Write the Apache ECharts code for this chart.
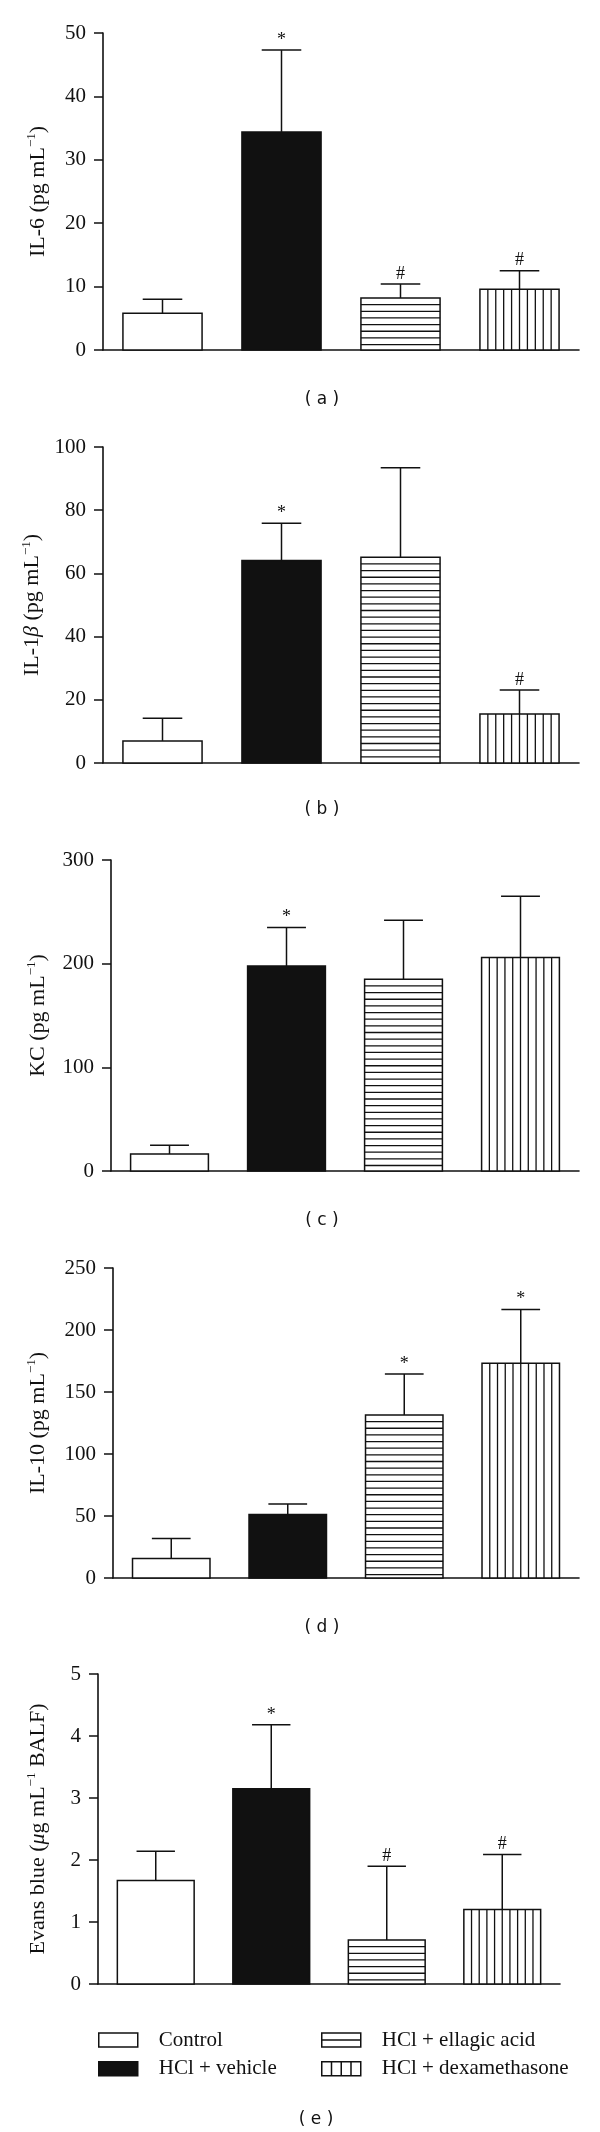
<!DOCTYPE html>
<html><head><meta charset="utf-8">
<script src="https://cdn.jsdelivr.net/npm/echarts@6/dist/echarts.min.js"></script>
<style>html,body{margin:0;padding:0;background:#fff}#chart{width:600px;height:2132px}</style>
</head><body><div id="chart"></div>
<script>
// ---------------- data ----------------
const categories = ['Control', 'HCl + vehicle', 'HCl + ellagic acid', 'HCl + dexamethasone'];

const il6Mean  = [5.8, 34.4, 8.2, 9.6];
const il6Sem   = [2.2, 12.9, 2.2, 2.9];
const il6Marks = ['', '*', '#', '#'];

const il1bMean  = [7.0, 64.1, 65.1, 15.5];
const il1bSem   = [7.2, 11.8, 28.3, 7.6];
const il1bMarks = ['', '*', '', '#'];

const kcMean  = [16.4, 197.7, 184.9, 206.0];
const kcSem   = [8.4, 37.3, 57.1, 59.0];
const kcMarks = ['', '*', '', ''];

const il10Mean  = [15.8, 51.3, 131.5, 173.1];
const il10Sem   = [16.1, 8.4, 33.0, 43.5];
const il10Marks = ['', '', '*', '*'];

const evansMean  = [1.67, 3.15, 0.71, 1.20];
const evansSem   = [0.47, 1.03, 1.19, 0.89];
const evansMarks = ['', '*', '#', '#'];

const yMax      = [50, 100, 300, 250, 5];
const yInterval = [10, 20, 100, 50, 1];
const yTitles = [
  '{t|IL-6 (pg mL}{s|\u22121}{t|)}',
  '{t|IL-1}{i|\u03B2}{t| (pg mL}{s|\u22121}{t|)}',
  '{t|KC (pg mL}{s|\u22121}{t|)}',
  '{t|IL-10 (pg mL}{s|\u22121}{t|)}',
  '{t|Evans blue (}{i|\u03BC}{t|g mL}{s|\u22121}{t| BALF)}'
];
const panelLabels = ['( a )', '( b )', '( c )', '( d )', '( e )'];

const means = [il6Mean, il1bMean, kcMean, il10Mean, evansMean];
const sems  = [il6Sem, il1bSem, kcSem, il10Sem, evansSem];
const marks = [il6Marks, il1bMarks, kcMarks, il10Marks, evansMarks];

// ---------------- layout / style ----------------
const INK = '#111';
const SERIF = "'Liberation Serif', 'DejaVu Serif', serif";
const SANS = "'DejaVu Sans', sans-serif";
const BAR_RATIO = 0.665;
const HATCH_GAP = 6.65;
const grids = [
  {left: 103, top: 33,   width: 476, height: 317},
  {left: 103, top: 447,  width: 476, height: 316},
  {left: 111, top: 860,  width: 468, height: 311},
  {left: 113, top: 1268, width: 466, height: 310},
  {left: 98,  top: 1674, width: 462, height: 310}
];
const nameGaps = [52, 52, 60, 62, 47];
const labelPos = [[322, 400], [322, 810], [322, 1221], [322, 1628], [316, 2120]];

function makeRender(g, mark) {
  return function (params, api) {
    const cat = api.value(0), mean = api.value(1), sem = api.value(2);
    const base = api.coord([cat, 0]);
    const top = api.coord([cat, mean]);
    const err = api.coord([cat, mean + sem]);
    const band = api.size([1, 0])[0];
    const w = band * BAR_RATIO;
    const x0 = base[0] - w / 2;
    const h = base[1] - top[1];
    const ch = [];
    ch.push({type: 'rect', shape: {x: x0, y: top[1], width: w, height: h},
      style: {fill: g === 1 ? INK : '#fff', stroke: INK, lineWidth: 1.5}});
    if (g === 2) {
      for (let y = top[1] + HATCH_GAP; y < base[1] - 1.5; y += HATCH_GAP) {
        ch.push({type: 'line', shape: {x1: x0, y1: y, x2: x0 + w, y2: y}, style: {stroke: INK, lineWidth: 1.3}});
      }
    }
    if (g === 3) {
      for (let k = 1; k < 10; k++) {
        const x = x0 + w * k / 10;
        ch.push({type: 'line', shape: {x1: x, y1: top[1], x2: x, y2: base[1]}, style: {stroke: INK, lineWidth: 1.3}});
      }
    }
    ch.push({type: 'line', shape: {x1: base[0], y1: top[1], x2: base[0], y2: err[1]}, style: {stroke: INK, lineWidth: 1.5}});
    ch.push({type: 'line', shape: {x1: base[0] - w / 4, y1: err[1], x2: base[0] + w / 4, y2: err[1]}, style: {stroke: INK, lineWidth: 1.5}});
    if (mark) {
      ch.push({type: 'text', x: base[0], y: err[1] - 1,
        style: {text: mark, align: 'center', verticalAlign: 'bottom', font: '18px ' + SERIF, fill: INK}});
    }
    return {type: 'group', children: ch};
  };
}

const xAxes = [], yAxes = [], series = [], graphics = [];
grids.forEach((gr, p) => {
  xAxes.push({type: 'category', gridIndex: p, data: categories, boundaryGap: true,
    axisLine: {lineStyle: {color: INK, width: 1.6}}, axisTick: {show: false}, axisLabel: {show: false}});
  yAxes.push({type: 'value', gridIndex: p, min: 0, max: yMax[p], interval: yInterval[p],
    axisLine: {show: true, lineStyle: {color: INK, width: 1.6}},
    axisTick: {show: true, length: 9, lineStyle: {color: INK, width: 1.5}},
    axisLabel: {fontFamily: SERIF, fontSize: 21, color: INK, margin: 17},
    splitLine: {show: false},
    name: yTitles[p], nameLocation: 'middle', nameGap: nameGaps[p], nameRotate: 90,
    nameTextStyle: {
      rich: {
        t: {fontFamily: SERIF, fontSize: 22, color: INK, lineHeight: 26},
        i: {fontFamily: SERIF, fontSize: 22, fontStyle: 'italic', color: INK, lineHeight: 26},
        s: {fontFamily: SERIF, fontSize: 13, color: INK, lineHeight: 20, verticalAlign: 'top'}
      }
    }});
  categories.forEach((c, g) => {
    series.push({type: 'custom', name: c, xAxisIndex: p, yAxisIndex: p, clip: false, silent: true,
      renderItem: makeRender(g, marks[p][g]), encode: {x: 0, y: 1},
      data: [[g, means[p][g], sems[p][g]]]});
  });
  graphics.push({type: 'text', x: labelPos[p][0], y: labelPos[p][1],
    style: {text: panelLabels[p], align: 'center', verticalAlign: 'middle', font: '17px ' + SANS, fill: INK}});
});

const iconStyles = [
  {icon: 'path://M0,0H39V14H0Z', itemStyle: {color: '#fff', borderColor: INK, borderWidth: 1.5}},
  {icon: 'path://M0,0H39V14H0Z', itemStyle: {color: INK, borderColor: INK, borderWidth: 1.5}},
  {icon: 'path://M0,0H39V14H0Z M0,7H39', itemStyle: {color: '#fff', borderColor: INK, borderWidth: 1.5}},
  {icon: 'path://M0,0H39V14H0Z M9.75,0V14 M19.5,0V14 M29.25,0V14', itemStyle: {color: '#fff', borderColor: INK, borderWidth: 1.5}}
];
function legendFor(idx, left) {
  return {orient: 'vertical', left: left, top: 2029.5, padding: 0, itemGap: 7.7,
    itemWidth: 39, itemHeight: 14, selectedMode: false,
    textStyle: {fontFamily: SERIF, fontSize: 21, color: INK, padding: [0, 0, 0, 16]},
    data: idx.map(g => Object.assign({name: categories[g]}, iconStyles[g]))};
}

const chart = echarts.init(document.getElementById('chart'), null, {renderer: 'canvas'});
chart.setOption({
  animation: false,
  backgroundColor: '#fff',
  grid: grids.map(g => Object.assign({containLabel: false}, g)),
  xAxis: xAxes,
  yAxis: yAxes,
  series: series,
  legend: [legendFor([0, 1], 98), legendFor([2, 3], 321)],
  graphic: graphics
});
</script></body></html>
